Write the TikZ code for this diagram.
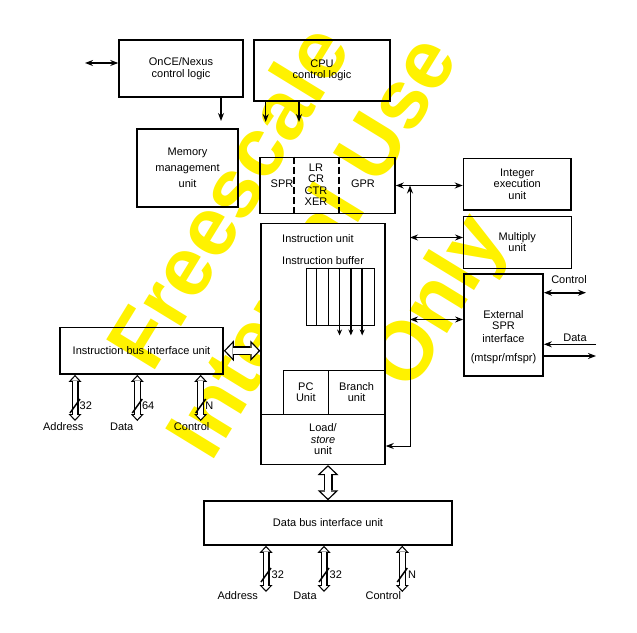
\documentclass[tikz,border=0pt]{standalone}
\usepackage{fontspec}
\setmainfont{Liberation Sans}
\usetikzlibrary{arrows.meta}

\tikzset{
  box/.style={draw, line width=1.5bp, rectangle, inner sep=0pt, align=center},
  cell/.style={draw, line width=0.9bp, rectangle, inner sep=0pt, align=center},
  bus/.style={line width=1.8bp, {Stealth[length=8bp,width=6bp]}-{Stealth[length=8bp,width=6bp]}},
  link/.style={line width=0.9bp, {Stealth[length=8bp,width=6bp]}-{Stealth[length=8bp,width=6bp]}},
  feed/.style={line width=1.2bp, -{Stealth[length=8bp,width=6bp]}},
  wide/.style={line width=9bp,
    {Triangle[length=10bp,width=21bp,line width=0pt]}-{Triangle[length=10bp,width=21bp,line width=0pt]},
    postaction={draw=white, line width=6.4bp, shorten <=1.8bp, shorten >=1.8bp,
      {Triangle[length=6.9bp,width=14.4bp,line width=0pt]}-{Triangle[length=6.9bp,width=14.4bp,line width=0pt]}}},
  slim/.style={line width=7bp,
    {Triangle[length=7bp,width=13bp,line width=0pt]}-{Triangle[length=7bp,width=13bp,line width=0pt]},
    postaction={draw=white, line width=4.6bp, shorten <=1.76bp, shorten >=1.76bp,
      {Triangle[length=4bp,width=7.5bp,line width=0pt]}-{Triangle[length=4bp,width=7.5bp,line width=0pt]}}},
  slash/.style={line width=1.5bp},
  wmark/.style={text=yellow, font=\fontsize{83bp}{100bp}\selectfont\bfseries, rotate=58.5, inner sep=0pt},
}

\begin{document}
\begin{tikzpicture}[x=1bp, y=-1bp, font=\fontsize{11bp}{11.5bp}\selectfont]

  \useasboundingbox (0,0) rectangle (637,633);

  % watermark
  \begin{scope}
    \clip (0,26) rectangle (637,633);
    \node[wmark] (wm1) at (227,196) {Freescale};
    \node[wmark] (wm2) at (310,245) {Internal Use};
    \node[wmark] (wm3) at (441,304) {Only};
  \end{scope}

  \node[box, minimum width=124bp, minimum height=57bp] (once) at (181,68.5) {OnCE/Nexus\\control logic};
  \node[box, minimum width=136bp, minimum height=61bp] (cpu) at (322,70.5) {CPU\\control logic};
  \node[box, minimum width=101bp, minimum height=78bp] (mmu) at (187.5,168) {Memory\\[4.5bp]management\\[4.5bp]unit};
  \node[box, minimum width=135bp, minimum height=56bp] (reg) at (327.5,185.5) {};
  \node (spr) at (282,183.5) {SPR};
  \node[align=center, inner sep=0pt] (lr) at (316,184.5) {LR\\CR\\CTR\\XER};
  \node (gpr) at (363,183.5) {GPR};
  \draw[line width=1.6bp, dash pattern=on 7bp off 3bp] ([xshift=35bp]reg.north west) -- ([xshift=35bp]reg.south west);
  \draw[line width=1.6bp, dash pattern=on 7bp off 3bp] ([xshift=80bp]reg.north west) -- ([xshift=80bp]reg.south west);

  \node[box, minimum width=107.5bp, minimum height=51.5bp] (int) at (517.25,184.25) {Integer\\execution\\unit};
  \node[box, line width=1bp, minimum width=107.5bp, minimum height=52bp] (mul) at (517.25,242) {Multiply\\unit};
  \node[box, line width=1.8bp, minimum width=79bp, minimum height=102bp] (ext) at (503.5,325) {};
  \node[align=center, inner sep=0pt] (exttxt) at (503.5,337) {External\\SPR\\[1.5bp]interface\\[7bp](mtspr/mfspr)};

  % instruction unit
  \node[box, fill=white, minimum width=124bp, minimum height=241bp] (iu) at (323,343.8) {};
  \node[anchor=west, inner sep=0pt] (iutxt) at (282,239) {Instruction unit};
  \node[anchor=west, inner sep=0pt] (ibtxt) at (282,261) {Instruction buffer};
  \node[cell, minimum width=68bp, minimum height=57bp] (ibuf) at (340,296.5) {};
  \foreach \i in {1,2}
    \draw[line width=0.9bp] ([xshift=\i*11.33bp]ibuf.north west) -- ([xshift=\i*11.33bp]ibuf.south west);
  \foreach \i in {3,4,5}
    \draw[line width=1.8bp, -{Stealth[length=6bp,width=5bp]}] ([xshift=\i*11.33bp]ibuf.north west) -- ([xshift=\i*11.33bp, yshift=-10bp]ibuf.south west);
  \node[cell, minimum width=45bp, minimum height=44.3bp] (pc) at (305.8,392.2) {PC\\Unit};
  \node[cell, minimum width=56.7bp, minimum height=44.3bp] (branch) at (356.65,392.2) {Branch\\unit};
  \node[box, minimum width=124bp, minimum height=50bp] (ls) at (323,439.3) {Load/\\\textit{store}\\unit};

  \node[box, line width=1.8bp, minimum width=163bp, minimum height=46.5bp] (ibiu) at (141.5,350.75) {Instruction bus interface unit};
  \node[box, minimum width=248bp, minimum height=44bp] (dbiu) at (328,523) {Data bus interface unit};

  % control and register paths
  \coordinate (oncein) at (85,63);
  \draw[bus] (oncein) -- (oncein -| once.west);
  \coordinate (mmuin) at (221,121);
  \draw[feed] (mmuin |- once.south) -- (mmuin);
  \coordinate (sprin) at (265.7,122);
  \coordinate (lrin) at (299,122);
  \draw[feed] (sprin |- cpu.south) -- (sprin);
  \draw[feed] (lrin |- cpu.south) -- (lrin);
  \draw[bus] (reg.east) -- (reg.east -| int.west);
  \coordinate (bus) at (410,446);
  \draw[link] (bus -| ls.east) -- (bus) -- (bus |- reg.east);
  \coordinate (mulin) at (410,237.5);
  \draw[link] (mulin) -- (mulin -| mul.west);
  \coordinate (extin) at (410,319.5);
  \draw[link] (extin) -- (extin -| ext.west);

  \coordinate (ctl) at (586,292.7);
  \draw[bus] (ctl -| ext.east) -- (ctl);
  \node (ctltxt) at (569,280) {Control};
  \coordinate (din) at (596,344.3);
  \draw[feed, line width=0.9bp] (din) -- (din -| ext.east);
  \coordinate (dout) at (596,356);
  \draw[feed, line width=1.8bp] (dout -| ext.east) -- (dout);
  \node (dtxt) at (575,337.5) {Data};

  % buses
  \draw[wide] (ibiu.east) -- (ibiu.east -| iu.west);
  \draw[wide] (ls.south -| dbiu.north) -- (dbiu.north);

  \foreach \px/\w/\lx/\lbl/\nm in {75/32/63.3/Address/ia, 137.3/64/121.7/Data/id, 200.7/N/191.7/Control/ic} {
    \coordinate (\nm) at (\px,421);
    \coordinate (\nm s) at (\px,406);
    \draw[slim] (\nm |- ibiu.south) -- (\nm);
    \draw[slash] ([shift={(-5,7)}]\nm s) -- ([shift={(5,-7)}]\nm s);
    \node[anchor=west, inner sep=0pt] (\nm w) at ([xshift=4.5bp]\nm s) {\w};
    \node (\nm t) at (\lx,427) {\lbl};
  }

  \foreach \px/\w/\lx/\lbl/\nm in {266/32/237.7/Address/da, 324/32/305/Data/dd, 402.3/N/383.3/Control/dc} {
    \coordinate (\nm) at (\px,592);
    \coordinate (\nm s) at (\px,575);
    \draw[slim] (\nm |- dbiu.south) -- (\nm);
    \draw[slash] ([shift={(-5,7)}]\nm s) -- ([shift={(5,-7)}]\nm s);
    \node[anchor=west, inner sep=0pt] (\nm w) at ([xshift=5.5bp]\nm s) {\w};
    \node (\nm t) at (\lx,595.5) {\lbl};
  }

\end{tikzpicture}
\end{document}
